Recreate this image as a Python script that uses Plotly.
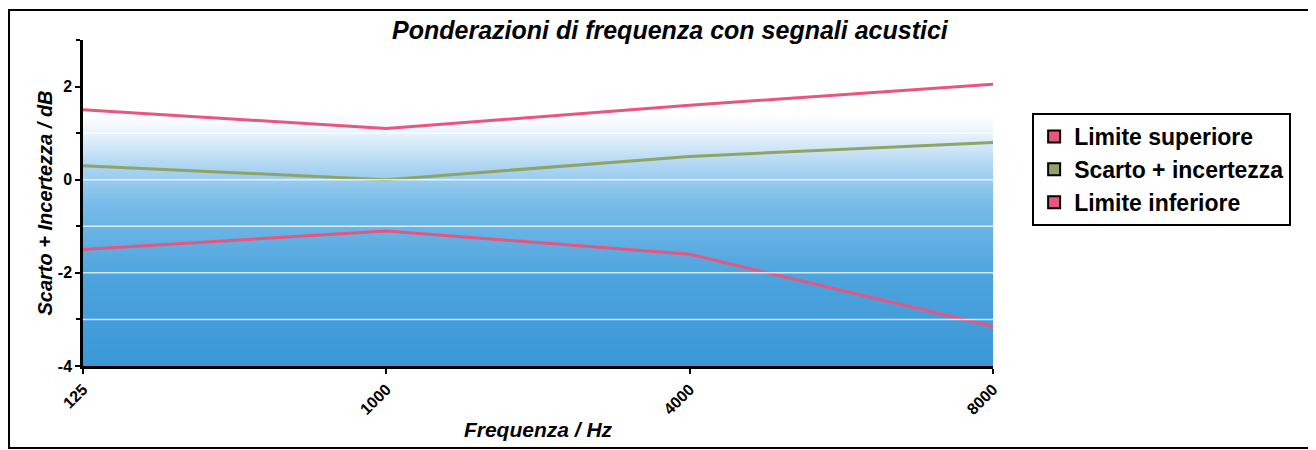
import plotly.graph_objects as go

frequencies = ["125", "1000", "4000", "8000"]
limite_superiore = [1.5, 1.1, 1.6, 2.05]
scarto_incertezza = [0.3, 0.0, 0.5, 0.8]
limite_inferiore = [-1.5, -1.1, -1.6, -3.15]
series_names = ["Limite superiore", "Scarto + incertezza", "Limite inferiore"]
y_ticks = [-4, -2, 0, 2]
y_tick_labels = ["-4", "-2", "0", "2"]
grid_values = [-3, -2, -1, 0, 1]

pink = "#e9557f"
green = "#8fa465"
font_family = "Liberation Sans, Arial, sans-serif"

fig = go.Figure()

# gradient background (value-dependent colour, constant across categories)
n_rows = 57
gy = [-4 + 7 * i / (n_rows - 1) for i in range(n_rows)]
gz = [[v] * len(frequencies) for v in gy]
fig.add_trace(go.Heatmap(
    x=frequencies, y=gy, z=gz,
    colorscale=[[0, "#3a97d6"], [0.28, "#4da4de"], [0.5, "#78bce8"],
                [0.6, "#a6d2f1"], [0.68, "#d4e9f8"], [0.74, "#f4f9fd"], [0.78, "#ffffff"], [1, "#ffffff"]],
    showscale=False, zsmooth="best", hoverinfo="skip"))

for name, vals, col in [(series_names[0], limite_superiore, pink),
                        (series_names[1], scarto_incertezza, green),
                        (series_names[2], limite_inferiore, pink)]:
    fig.add_trace(go.Scatter(x=frequencies, y=vals, mode="lines", name=name,
                             line=dict(color=col, width=3), showlegend=False))
    fig.add_trace(go.Scatter(x=[None], y=[None], mode="markers", name=name,
                             marker=dict(symbol="square", size=16, color=col,
                                         line=dict(color="black", width=1.5))))

shapes = [dict(type="line", xref="paper", yref="y", x0=0, x1=1, y0=g, y1=g,
               line=dict(color="rgba(255,255,255,0.75)", width=1.5), layer="above")
          for g in grid_values]
shapes.append(dict(type="rect", xref="paper", yref="paper",
                   x0=-0.0813, x1=1.3505, y0=-0.2515, y1=1.092,
                   line=dict(color="black", width=2), layer="above"))

fig.update_layout(
    width=1316, height=450,
    margin=dict(l=75, r=331, t=32, b=92),
    paper_bgcolor="white", plot_bgcolor="white",
    font=dict(family=font_family, color="black"),
    title=dict(text="<i>Ponderazioni di frequenza con segnali acustici</i>",
               x=0.503, xanchor="center", y=0.95, yanchor="middle",
               font=dict(size=25, color="black", weight="bold")),
    xaxis=dict(type="category", range=[0, 3], showgrid=False, automargin=False,
               showline=True, linecolor="black", linewidth=2.5,
               ticks="outside", ticklen=5, tickwidth=2, tickcolor="black",
               tickangle=-45, tickfont=dict(size=16, family=font_family, weight="bold"),
               title=dict(text="<i>Frequenza / Hz</i>", font=dict(size=21, weight="bold"), standoff=6),
               zeroline=False),
    yaxis=dict(range=[-4, 3], tickvals=y_ticks, ticktext=y_tick_labels,
               showgrid=False, automargin=False,
               showline=True, linecolor="black", linewidth=2.5,
               ticks="outside", ticklen=5, tickwidth=2, tickcolor="black",
               tickfont=dict(size=16, weight="bold"),
               minor=dict(dtick=1, ticks="outside", ticklen=4, tickcolor="black", tickwidth=2),
               title=dict(text="<i>Scarto + Incertezza / dB</i>", font=dict(size=20, weight="bold"), standoff=0),
               zeroline=False),
    legend=dict(x=1.043, y=0.776, xanchor="left", yanchor="top",
                bordercolor="black", borderwidth=2, bgcolor="white",
                font=dict(size=23, family=font_family, weight="bold"),
                itemsizing="constant", tracegroupgap=0, itemwidth=30),
    shapes=shapes,
)

fig.write_html("out.html")
